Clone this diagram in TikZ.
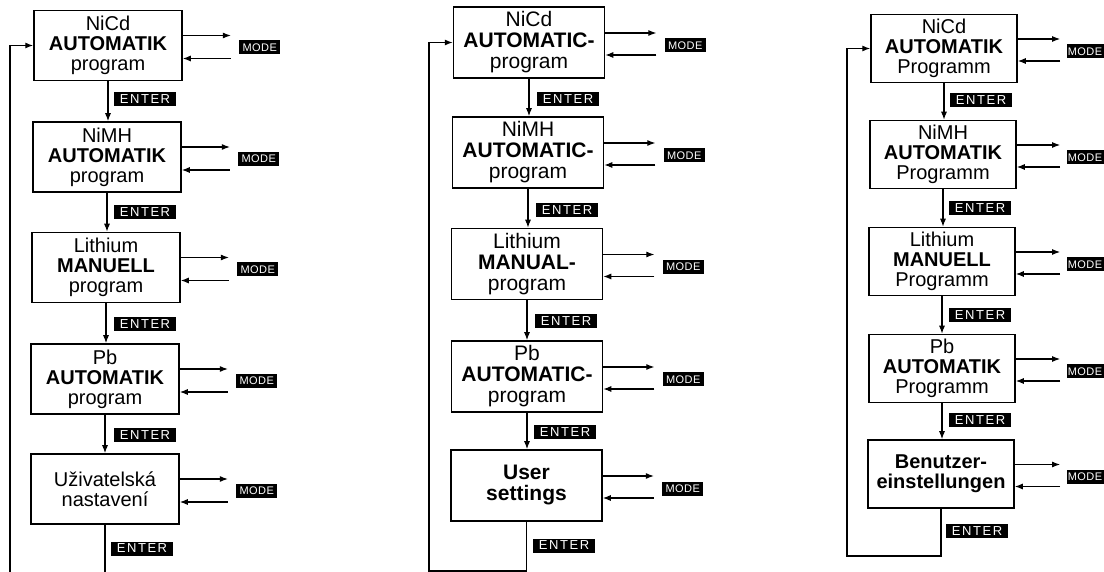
\documentclass[tikz,border=0pt]{standalone}
\usepackage{fontspec}
\setmainfont{Liberation Sans}
\usetikzlibrary{arrows.meta}
\tikzset{
  boxL/.style={draw, line width=0.75pt, inner sep=0pt, align=center,
    minimum width=74pt, minimum height=35pt, font=\fontsize{10}{10}\selectfont},
  boxM/.style={boxL, minimum width=75.5pt, minimum height=35.5pt, font=\fontsize{10.5}{10.5}\selectfont},
  boxR/.style={boxL, minimum width=73pt, minimum height=34pt},
  enterlbl/.style={fill=black, text=white, inner sep=0pt, minimum width=31pt, minimum height=7pt,
    font=\fontsize{6.5}{6.5}\selectfont\addfontfeatures{LetterSpace=12}},
  modelbl/.style={fill=black, text=white, inner sep=0pt, minimum width=20.5pt, minimum height=7pt,
    font=\fontsize{5.5}{5.5}\selectfont\addfontfeatures{LetterSpace=4}},
  conn/.style={line width=0.55pt},
  arr/.style={conn, -{Latex[length=4pt,width=3pt]}},
  outarr/.style={arr, shorten >=4pt},
  inarr/.style={arr, shorten <=4pt},
}
\begin{document}
\begin{tikzpicture}[x=0.5pt,y=-0.5pt]
\useasboundingbox (0,0) rectangle (1104,572);
\clip (0,0) rectangle (1104,572);

% ---------------- left column ----------------
\node[boxL] (L1) at (108,45.5) {NiCd\\\textbf{AUTOMATIK}\\program};
\node[boxL] (L2) at (107,157) {NiMH\\\textbf{AUTOMATIK}\\program};
\node[boxL] (L3) at (106,267.5) {Lithium\\\textbf{MANUELL}\\program};
\node[boxL] (L4) at (105,379) {Pb\\\textbf{AUTOMATIK}\\program};
\node[boxL] (L5) at (105,489) {Uživatelská\\nastavení};

\foreach \i in {1,...,5}{
  \node[modelbl] (LM\i) at ([xshift=38.5pt,yshift=-1pt]L\i.east) {MODE};
  \draw[outarr] ([yshift=5pt]L\i.east) -- ([yshift=5pt]L\i.east -| LM\i.west);
  \draw[inarr] ([yshift=-6.5pt]L\i.east -| LM\i.west) -- ([yshift=-6.5pt]L\i.east);
}
\node[enterlbl] (LE1) at (145,99) {ENTER};
\node[enterlbl] (LE2) at (145,212) {ENTER};
\node[enterlbl] (LE3) at (145,324.5) {ENTER};
\node[enterlbl] (LE4) at (145,435) {ENTER};
\node[enterlbl] (LE5) at (142,548.5) {ENTER};
\draw[arr] (L1.south) -- (L1.south |- L2.north);
\draw[arr] (L2.south) -- (L2.south |- L3.north);
\draw[arr] (L3.south) -- (L3.south |- L4.north);
\draw[arr] (L4.south) -- (L4.south |- L5.north);
\coordinate (Lbot) at (103,580);
\coordinate (Lloop) at (10,580);
\draw[conn] (L5.south) -- (L5.south |- Lbot);
\draw[arr] (Lloop) |- (L1.west);

% ---------------- middle column ----------------
\node[boxM] (M1) at (529,42.5) {NiCd\\\textbf{AUTOMATIC-}\\program};
\node[boxM] (M2) at (528,152.5) {NiMH\\\textbf{AUTOMATIC-}\\program};
\node[boxM] (M3) at (527,264) {Lithium\\\textbf{MANUAL-}\\program};
\node[boxM] (M4) at (527,376.5) {Pb\\\textbf{AUTOMATIC-}\\program};
\node[boxM] (M5) at (526.5,485.5) {\textbf{User}\\\textbf{settings}};

\foreach \i in {1,...,5}{
  \node[modelbl] (MM\i) at ([xshift=40pt,yshift=-1.5pt]M\i.east) {MODE};
  \draw[outarr] ([yshift=4.75pt]M\i.east) -- ([yshift=4.75pt]M\i.east -| MM\i.west);
  \draw[inarr] ([yshift=-6.25pt]M\i.east -| MM\i.west) -- ([yshift=-6.25pt]M\i.east);
}
\node[enterlbl] (ME1) at (568,99) {ENTER};
\node[enterlbl] (ME2) at (567,210) {ENTER};
\node[enterlbl] (ME3) at (566,321.5) {ENTER};
\node[enterlbl] (ME4) at (565,432.5) {ENTER};
\node[enterlbl] (ME5) at (564,545.5) {ENTER};
\draw[arr] (M1.south) -- (M1.south |- M2.north);
\draw[arr] (M2.south) -- (M2.south |- M3.north);
\draw[arr] (M3.south) -- (M3.south |- M4.north);
\draw[arr] (M4.south) -- (M4.south |- M5.north);
\coordinate (Mcorner) at (429,571);
\draw[arr] (M5.south) |- (Mcorner) |- (M1.west);

% ---------------- right column ----------------
\node[boxR] (R1) at (944,48.5) {NiCd\\\textbf{AUTOMATIK}\\Programm};
\node[boxR] (R2) at (943,154.5) {NiMH\\\textbf{AUTOMATIK}\\Programm};
\node[boxR] (R3) at (942,261.5) {Lithium\\\textbf{MANUELL}\\Programm};
\node[boxR] (R4) at (942,368.5) {Pb\\\textbf{AUTOMATIK}\\Programm};
\node[boxR] (R5) at (941,474) {\textbf{Benutzer-}\\\textbf{einstellungen}};

\coordinate (Rmx) at (1085,0);
\foreach \i in {1,...,5}{
  \node[modelbl, minimum width=18.5pt] (RM\i) at ([yshift=-1.5pt]R\i.east -| Rmx) {MODE};
  \draw[outarr, shorten >=3pt] ([yshift=4.75pt]R\i.east) -- ([yshift=4.75pt]R\i.east -| RM\i.west);
  \draw[inarr, shorten <=3pt] ([yshift=-6.25pt]R\i.east -| RM\i.west) -- ([yshift=-6.25pt]R\i.east);
}
\node[enterlbl] (RE1) at (981,100) {ENTER};
\node[enterlbl] (RE2) at (980,208) {ENTER};
\node[enterlbl] (RE3) at (980,315) {ENTER};
\node[enterlbl] (RE4) at (980,420.5) {ENTER};
\node[enterlbl] (RE5) at (977,531) {ENTER};
\draw[arr] (R1.south) -- (R1.south |- R2.north);
\draw[arr] (R2.south) -- (R2.south |- R3.north);
\draw[arr] (R3.south) -- (R3.south |- R4.north);
\draw[arr] (R4.south) -- (R4.south |- R5.north);
\coordinate (Rcorner) at (847,556);
\draw[arr] (R5.south) |- (Rcorner) |- (R1.west);
\end{tikzpicture}
\end{document}
